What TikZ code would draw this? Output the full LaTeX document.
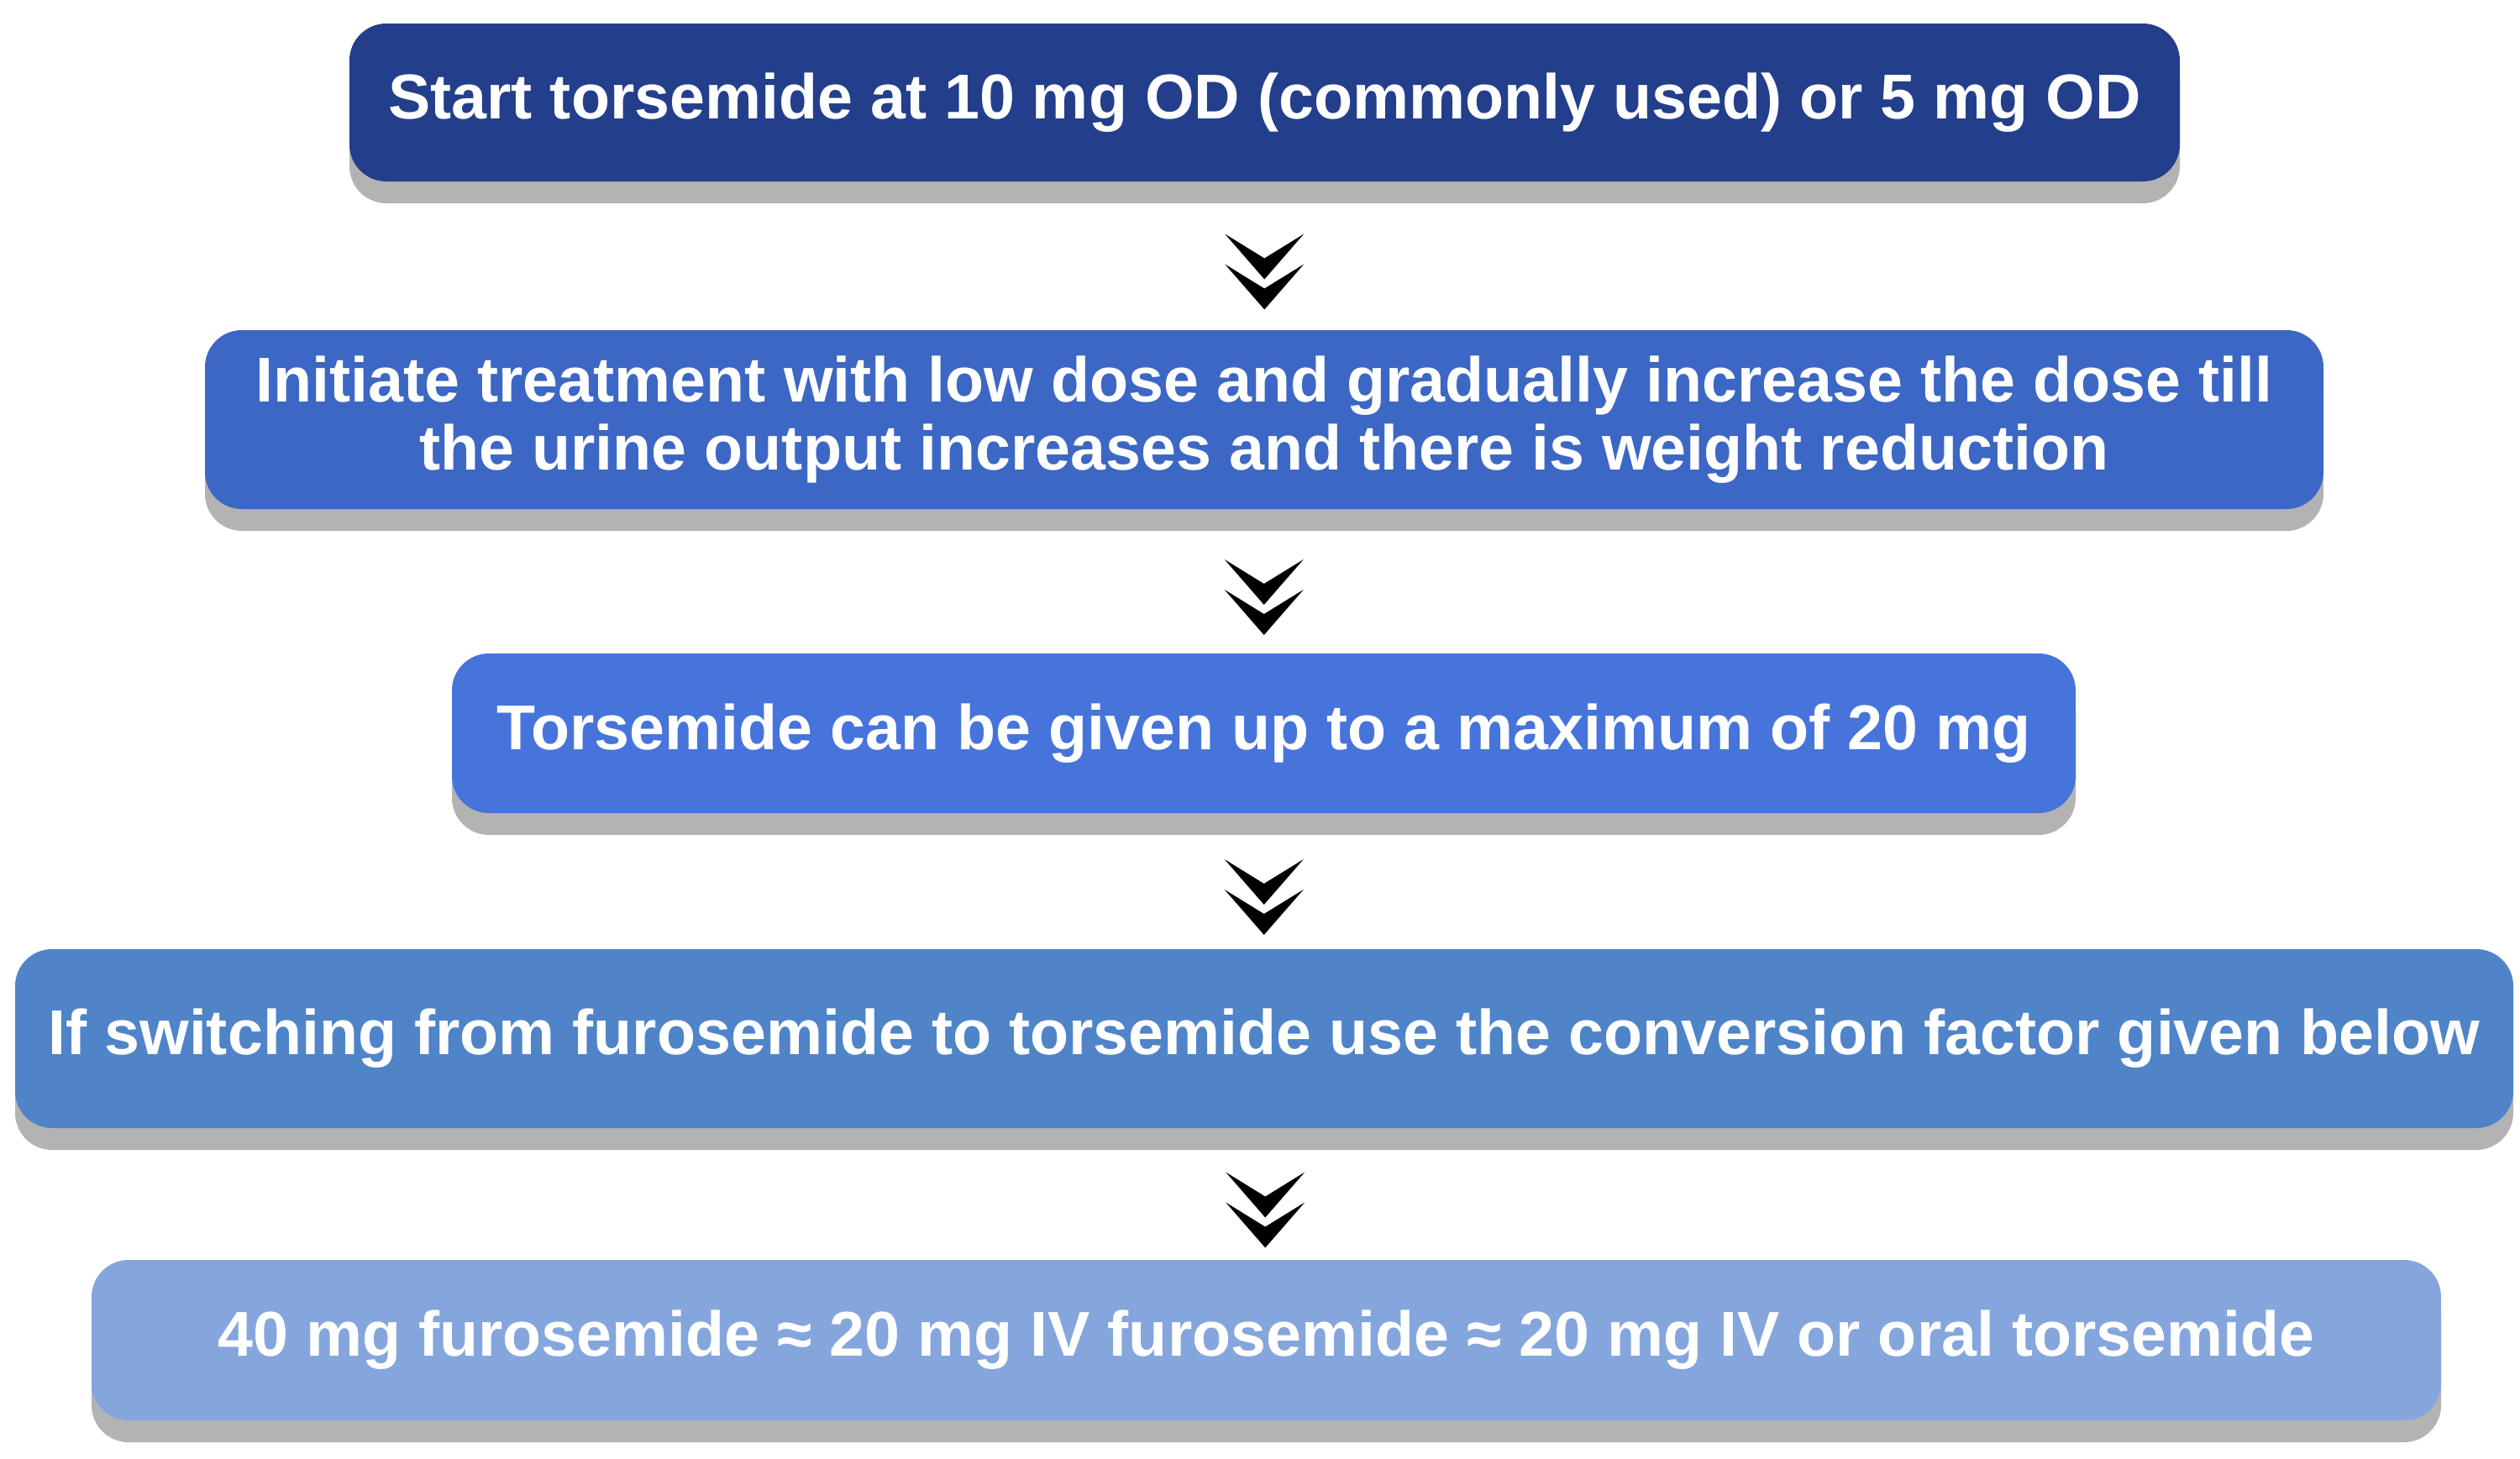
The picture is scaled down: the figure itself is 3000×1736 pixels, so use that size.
\documentclass[tikz,border=0pt]{standalone}
\usepackage{fontspec}
\setmainfont{Liberation Sans}
\usetikzlibrary{shadows,calc}
\definecolor{cA}{RGB}{35,62,139}
\definecolor{cB}{RGB}{60,103,196}
\definecolor{cC}{RGB}{70,116,219}
\definecolor{cD}{RGB}{79,132,201}
\definecolor{cE}{RGB}{132,166,220}
\definecolor{shadowgray}{RGB}{179,179,179}
\begin{document}
\begin{tikzpicture}[x=0.5pt,y=-0.5pt,
  box/.style={rounded corners=22pt, inner sep=0pt, text=white, align=center,
    font=\fontsize{37.7}{40.5}\selectfont\bfseries,
    drop shadow={shadow xshift=0pt, shadow yshift=-13pt, fill=shadowgray, opacity=1}},
  chev/.pic={
    \fill[black] (-47,-45) -- (0,9) -- (47,-45) -- (0,-16) -- cycle;
    \fill[black] (-47,-9) -- (0,45) -- (47,-9) -- (0,20) -- cycle;}]
\useasboundingbox (0,0) rectangle (3000,1736);
\node[box, fill=cA, minimum width=1089.5pt, minimum height=94pt] (b1) at (1505.5,122)
  {Start torsemide at 10 mg OD (commonly used) or 5 mg OD};
\node[box, fill=cB, minimum width=1261pt, minimum height=106.5pt] (b2) at (1505,499.5)
  {Initiate treatment with low dose and gradually increase the dose till\\the urine output increases and there is weight reduction};
\node[box, fill=cC, minimum width=966.5pt, minimum height=95pt] (b3) at (1504.5,873)
  {Torsemide can be given up to a maximum of 20 mg};
\node[box, fill=cD, minimum width=1487pt, minimum height=106.5pt] (b4) at (1505,1236.5)
  {If switching from furosemide to torsemide use the conversion factor given below};
\node[box, fill=cE, minimum width=1398.5pt, minimum height=95.5pt] (b5) at (1507.5,1595.5)
  {40 mg furosemide ≈ 20 mg IV furosemide ≈ 20 mg IV or oral torsemide};
\foreach \a/\b [count=\i] in {b1/b2,b2/b3,b3/b4,b4/b5}{
  \coordinate (s\i) at ($(\a.south)+(0,26)$);
  \coordinate (k\i) at ($(s\i)!0.5!(\b.north)+(0,6)$);
  \pic at (k\i) {chev};
}
\end{tikzpicture}
\end{document}
